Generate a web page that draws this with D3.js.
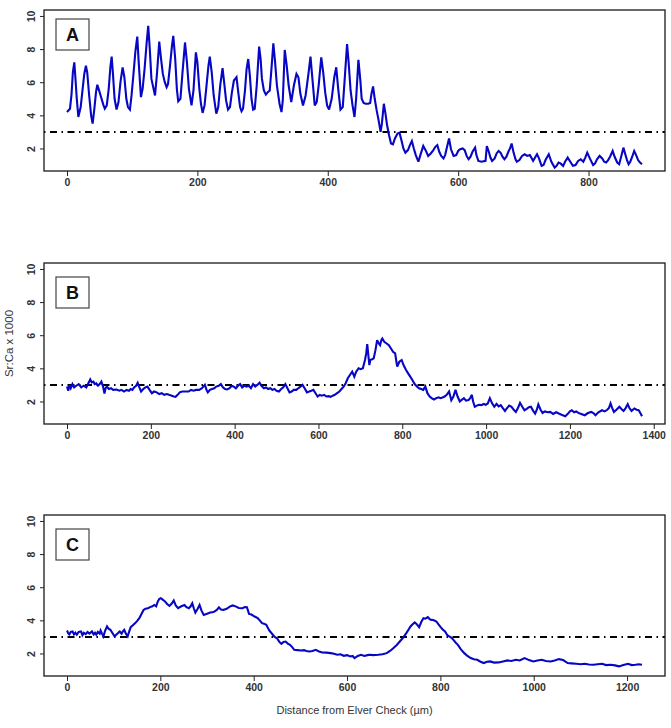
<!DOCTYPE html>
<html><head><meta charset="utf-8">
<script src="https://cdn.jsdelivr.net/npm/d3@7/dist/d3.min.js"></script>
<style>body{margin:0;background:#fff}svg{display:block}</style>
</head><body><svg id="chart" width="671" height="728"></svg>
<script>
// ---------- DATA ----------
const panelLabels = ["A", "B", "C"];
const threshold = 3;
const yTicks = [2, 4, 6, 8, 10];
const yLimits = [1, 10];
const xTicksA = [0, 200, 400, 600, 800];
const xTicksB = [0, 200, 400, 600, 800, 1000, 1200, 1400];
const xTicksC = [0, 200, 400, 600, 800, 1000, 1200];
const xAxisTitle = "Distance from Elver Check (\u00b5m)";
const yAxisTitle = "Sr:Ca x 1000";

const aDist = [0,4.6,7,9,11.2,13,15,17.4,21,24,26.5,29,31,34,37,39.3,42,44.5,46.5,50,53,56,58,61,64,66.5,68.5,70.5,73,76,79,82,85.3,88,91,93.5,96.5,99,102,105,107.8,110,113.4,116,119,122,124.6,127,129.5,135,138,141.5,144,147,150,152.8,155,158,161,163,166,168.5,170.6,174,177,181,184,187,191,194,197.7,200,203,205.5,208,211,214,217,219,222,225,229,232,235,238.6,241,244,247,250,253,256,258,260,263,265.5,267.7,270,273,275.5,278,280.5,283,285.5,288,291,294.7,297,299,302,305,308,311,314,316.5,319,322,326,329,331,334,337,340,344,348,352,355,358,362,366,370,373.5,376,380,383,386,390,393,396,399,402,406,410,413,416,419.5,423,426,429.6,432,435,438,441,443.5,447,450,452,455,458,462,465,467,469.5,472,475,478,481,483,486,488.5,491,494,497,500,503,507,510,513,516,519,523,526,529,532,535,539,542,546.5,550,554,558,562,565,568,571,574,577.5,580,583,586,589,593,597,600,603,607,610,613,616,619,622,626,628,631,636,642,644,647,649.5,652,656,659,662,665,668,671,674,677,679.5,682,685,688,690,694,698,702,706,710,713,715,718,721,724,728,731,734,739,743,748,751,754,757,761,764,768,772,776,780,784,788,792,795,798,802,807,810,813,817,821,824,827,830,833,837,840,844,847,850,853.5,856,859,861.5,864,867,870,873,876,879,882];
const aSrCa = [4.2,4.4,5.3,6.6,7.2,6.2,5.0,3.9,4.5,5.6,6.5,7.0,6.6,5.2,4.0,3.5,4.4,5.4,5.85,5.4,5.0,4.6,4.4,4.6,5.6,6.9,7.55,6.5,5.0,4.35,4.8,6.0,6.9,6.3,5.0,4.5,4.35,5.2,6.5,7.9,8.75,7.2,5.1,5.6,6.8,8.3,9.4,8.0,6.2,5.2,6.5,8.45,7.5,6.5,6.0,5.7,5.9,7.0,8.2,8.8,7.4,5.6,4.85,5.0,6.5,8.4,7.2,5.6,4.6,5.5,7.8,7.2,5.6,4.7,4.15,4.6,5.8,7.0,7.55,6.6,5.2,4.1,4.5,5.8,6.85,6.0,4.9,4.35,4.5,5.4,6.1,6.2,6.3,5.3,4.5,4.25,4.4,5.5,6.8,7.4,6.4,5.0,4.35,4.4,5.8,8.15,7.4,6.2,5.5,5.25,5.4,5.5,7.0,8.35,7.3,5.8,4.7,4.2,4.9,7.95,7.0,5.8,4.8,5.8,6.5,6.3,5.3,4.6,5.2,6.4,7.55,6.4,4.6,4.8,5.8,7.5,6.6,5.4,4.6,4.35,5.0,6.3,6.9,5.6,4.35,4.5,6.2,8.3,7.2,5.5,4.6,3.9,5.0,7.35,6.1,5.0,4.75,4.7,4.7,4.75,5.3,5.75,5.0,4.3,3.7,3.0,3.5,4.7,4.1,3.4,2.8,2.3,2.25,2.6,2.9,2.95,2.5,2.0,1.75,1.9,2.2,2.45,2.0,1.6,1.2,1.6,2.15,1.9,1.55,1.7,1.9,2.1,2.2,1.8,1.55,1.4,1.6,2.1,2.6,1.95,1.55,1.6,1.85,1.95,2.0,1.9,1.55,1.35,1.5,1.8,2.05,1.6,1.25,1.2,1.25,2.15,1.8,1.45,1.25,1.4,1.7,1.85,1.75,1.5,1.35,1.5,1.8,2.0,2.3,1.75,1.35,1.2,1.3,1.55,1.65,1.55,1.6,1.4,1.25,1.45,1.65,1.4,0.95,1.0,1.3,1.65,1.2,0.85,0.95,1.15,1.1,0.95,1.2,1.45,1.2,0.95,1.0,1.25,1.35,1.2,1.45,1.75,1.4,1.0,1.1,1.35,1.55,1.4,1.2,1.15,1.3,1.5,1.85,1.5,1.15,1.05,1.5,2.05,1.7,1.3,1.05,1.2,1.5,1.85,1.6,1.3,1.15,1.05];

const bDist = [0,3,6,9,13,17,22,28,34,40,46,51,55.5,59,63,66,70,74,78,82,86,89.4,92,95,100,105,110,118,125,130,136,142,148,152,156,160,165,168.6,172,176.8,182,187,192,197,202.5,208,214,220,226,232,238,243.6,250,255,259,264,269,275,282,290,296,302,308,315.6,322,329,333,336,341,346,351.5,356,362,367,372,377,382,388,393,398,403,408,413,418,423,428.6,434,439,444,449,454,459.5,464,469.7,475,480,485,490,495,500,505.7,511,516,521,526,531,536,541,547,552,557,562,567,572.5,578,583,588,593,598,603,608,613.6,619,624,629,634,639,644.5,650,655,660,665,670,675,680.5,685.6,690,695.8,701,706,711,714,716.4,719,721.5,723.6,728,731.8,736,740,744,747,750,752.4,757,762.7,768,773,778,783,786,788,793,798.6,803,809,814,819,824,829.5,835,840,845,850,855,860,865.4,870,875.7,881,887,891,896,901,906,911.7,917,922,927,932,937.4,942,947,952,958,962,966,969,973,978,983,988.8,994,999,1004,1009,1014,1019.6,1025,1030,1035,1040,1045,1050,1055,1060.7,1066,1071,1076,1081,1086,1091.6,1097,1102,1107,1112,1117,1121,1124.6,1130,1134.8,1140,1147,1153,1160,1167,1173.6,1180,1189,1195,1200,1204.6,1210,1215,1220,1227,1235.5,1243,1251,1256,1261,1268,1276.6,1283,1289,1293,1297,1301,1305,1311,1318,1323,1328,1333,1338,1342,1347,1354,1359,1364,1368,1372];
const bSrCa = [2.9,2.65,3.0,2.8,3.05,2.85,2.95,3.05,2.85,2.95,2.85,3.1,3.33,3.15,3.2,3.05,3.1,2.95,3.05,3.2,2.9,2.48,2.8,2.9,2.75,2.8,2.7,2.72,2.65,2.7,2.6,2.7,2.65,2.75,2.7,2.85,2.95,3.13,2.9,2.6,2.75,2.85,2.9,2.7,2.5,2.6,2.55,2.45,2.5,2.4,2.45,2.4,2.35,2.3,2.28,2.4,2.55,2.6,2.6,2.6,2.7,2.65,2.7,2.7,2.8,3.0,2.7,2.55,2.7,2.75,2.8,2.9,2.95,3.05,2.85,2.75,2.73,2.8,2.95,2.9,2.8,2.95,3.05,2.85,2.95,2.9,2.95,2.8,3.05,2.9,3.0,3.13,2.95,2.8,2.85,2.75,2.8,2.7,2.75,2.65,2.6,2.75,2.85,3.05,2.8,2.55,2.6,2.7,2.7,2.8,2.9,3.0,2.8,2.55,2.6,2.65,2.7,2.5,2.3,2.4,2.35,2.4,2.3,2.32,2.28,2.35,2.4,2.5,2.6,2.75,2.9,3.1,3.4,3.6,3.8,3.5,3.8,4.0,3.95,4.0,4.5,4.9,5.47,4.8,4.2,4.5,4.55,4.6,5.1,5.7,5.5,5.4,5.7,5.8,5.6,5.5,5.4,5.2,5.0,4.9,4.4,4.1,4.4,4.5,4.2,3.9,3.7,3.5,3.3,3.05,2.9,2.8,2.75,2.7,2.9,2.5,2.3,2.2,2.12,2.2,2.25,2.2,2.24,2.3,2.4,2.6,2.08,2.3,2.7,2.3,2.0,2.1,2.2,2.05,2.08,2.2,2.4,2.0,1.68,1.75,1.8,1.78,1.85,1.8,1.88,2.2,1.9,1.68,1.85,1.7,1.78,1.6,1.43,1.6,1.75,1.68,1.5,1.37,1.6,1.92,1.7,1.47,1.55,1.65,1.68,1.45,1.27,1.5,1.82,1.5,1.31,1.4,1.35,1.37,1.25,1.35,1.27,1.2,1.11,1.25,1.4,1.47,1.35,1.4,1.31,1.25,1.17,1.3,1.37,1.3,1.17,1.35,1.47,1.4,1.5,1.6,1.88,1.6,1.37,1.5,1.68,1.55,1.43,1.6,1.84,1.6,1.43,1.58,1.5,1.47,1.3,1.11];

const cDist = [0,3,5,8,12,15,18,21,25,30,33,36,40,44,48,53.5,57,60,62.7,66,70,72,75,78,82,85.8,89,93,97,102,106,110,113,117,120,122.7,126,130,133,136.5,141,145.7,150,155,159,164,168,173.4,178,183,187,191,194.6,198,201,205,210,214,219.5,224,228.7,233,238,245,251.8,256,261,265,268.4,272,275,280,284,288,293,300,307,314,321,325.6,330,335,342,348.7,355,362.5,368,376,381,385.5,390,395,399.4,404,408.6,413,417.8,422,427,433,441,445,450,455,459.3,464,468.5,473,477.8,482,487,494,501,508,513,519,526,533,540,547,556,565,572,579,586,593,600,607,612,616,623,630,637,644,648,656,667,676,685,692,699,706,713,720,727,732,736,740,745,750,754.5,759,763.7,768,773,778,782,786,791.4,796,800.6,805,810,815,819,824,828,833,837.5,844,851.3,858,865,872,879,886,893,900,906.7,915,925,934,943.6,952,962,970,980.4,990,999,1008,1017,1026,1036,1045,1054,1063,1072.7,1081,1091,1100,1109.6,1118,1128,1137,1146.5,1155,1165,1174,1183,1192,1202,1210,1218,1225,1232];
const cSrCa = [3.39,3.2,3.15,3.3,3.33,3.15,3.25,3.13,3.3,3.33,3.1,3.25,3.17,3.3,3.2,3.33,3.15,3.25,3.13,3.3,3.2,3.39,3.2,3.03,3.4,3.63,3.5,3.43,3.25,3.03,3.15,3.25,3.33,3.2,3.35,3.43,3.2,3.03,3.3,3.59,3.7,3.83,3.95,4.13,4.35,4.63,4.7,4.73,4.8,4.85,4.93,4.85,5.14,5.3,5.34,5.25,5.14,5.0,4.87,5.0,5.2,4.9,4.73,4.85,4.93,4.8,4.73,4.85,5.03,4.7,4.47,4.7,4.93,4.6,4.33,4.4,4.47,4.5,4.63,4.79,4.65,4.63,4.7,4.83,4.9,4.83,4.75,4.73,4.8,4.79,4.39,4.35,4.27,4.2,4.13,4.0,3.83,3.8,3.73,3.4,3.13,3.0,2.92,2.7,2.58,2.7,2.72,2.6,2.52,2.4,2.22,2.2,2.18,2.2,2.15,2.12,2.15,2.22,2.12,2.06,2.05,2.02,1.98,1.92,1.95,1.86,1.9,1.82,1.85,1.72,1.85,1.92,1.85,1.9,1.92,1.9,1.92,1.95,2.02,2.15,2.32,2.5,2.72,2.95,3.23,3.45,3.63,3.75,3.87,3.75,3.59,3.9,4.13,4.1,4.19,4.05,4.03,4.0,3.93,3.75,3.59,3.45,3.33,3.1,3.03,2.95,2.82,2.65,2.52,2.25,2.02,1.85,1.72,1.65,1.62,1.5,1.42,1.5,1.52,1.45,1.46,1.52,1.58,1.55,1.62,1.58,1.72,1.6,1.52,1.58,1.62,1.55,1.52,1.58,1.66,1.6,1.42,1.4,1.38,1.35,1.38,1.33,1.32,1.35,1.38,1.3,1.32,1.28,1.22,1.3,1.38,1.3,1.32,1.35,1.32];

// ---------- LAYOUT / STYLE ----------
const plotLeft = 44, plotRight = 665, plotH = 161;
const panelTops = [10, 263, 515];
const boxOffsets = [9, 14, 14];
const lineColor = "#0606c4";
const fontFam = "Arial, 'Liberation Sans', Helvetica, sans-serif";

const panels = [
  {dist: aDist, val: aSrCa, ticks: xTicksA},
  {dist: bDist, val: bSrCa, ticks: xTicksB},
  {dist: cDist, val: cSrCa, ticks: xTicksC}
];

const svg = d3.select("#chart");

function padded(lo, hi) { const r = hi - lo; return [lo - 0.04 * r, hi + 0.04 * r]; }

panels.forEach((p, i) => {
  const top = panelTops[i];
  const x = d3.scaleLinear().domain(padded(d3.min(p.dist), d3.max(p.dist))).range([plotLeft, plotRight]);
  const y = d3.scaleLinear().domain(padded(yLimits[0], yLimits[1])).range([top + plotH, top]);
  const g = svg.append("g");

  // threshold line
  g.append("line")
    .attr("x1", plotLeft).attr("x2", plotRight)
    .attr("y1", y(threshold)).attr("y2", y(threshold))
    .attr("stroke", "#000").attr("stroke-width", 2)
    .attr("stroke-dasharray", "1.5,4.5,7,4.5");

  // data line
  const line = d3.line().x((d, k) => x(p.dist[k])).y(d => y(d));
  g.append("path").datum(p.val)
    .attr("d", line).attr("fill", "none")
    .attr("stroke", lineColor).attr("stroke-width", 2.1)
    .attr("stroke-linejoin", "miter").attr("stroke-miterlimit", 3);

  // frame
  g.append("rect").attr("x", plotLeft).attr("y", top)
    .attr("width", plotRight - plotLeft).attr("height", plotH)
    .attr("fill", "none").attr("stroke", "#1a1a1a").attr("stroke-width", 1.3);

  // x axis
  const xa = d3.axisBottom(x).tickValues(p.ticks).tickSize(5).tickPadding(3).tickFormat(d3.format("d"));
  const gx = g.append("g").attr("transform", `translate(0,${top + plotH})`).call(xa);
  gx.select(".domain").remove();
  gx.selectAll("line").attr("stroke", "#222");
  gx.selectAll("text").attr("font-family", fontFam).attr("font-size", 10.5).attr("font-weight", "bold").attr("fill", "#333");

  // y axis
  const ya = d3.axisLeft(y).tickValues(yTicks).tickSize(4).tickFormat(d3.format("d"));
  const gy = g.append("g").attr("transform", `translate(${plotLeft},0)`).call(ya);
  gy.select(".domain").remove();
  gy.selectAll("line").attr("stroke", "#222");
  gy.selectAll("text").remove();
  gy.selectAll(".tick").append("text")
    .attr("transform", "translate(-13,0) rotate(-90)")
    .attr("text-anchor", "middle").attr("dy", "0.35em")
    .attr("font-family", fontFam).attr("font-size", 10.5).attr("font-weight", "bold").attr("fill", "#333")
    .text(d => d);

  // panel label box
  const bx = 56, by = top + boxOffsets[i];
  g.append("rect").attr("x", bx).attr("y", by).attr("width", 33).attr("height", 31)
    .attr("fill", "#fff").attr("stroke", "#444").attr("stroke-width", 1.2);
  g.append("text").attr("x", bx + 16.5).attr("y", by + 22)
    .attr("text-anchor", "middle")
    .attr("font-family", "'Liberation Sans Narrow', 'Arial Narrow', Arial, sans-serif")
    .attr("font-weight", "bold").attr("font-size", 18).attr("fill", "#111")
    .text(panelLabels[i]);
});

// axis titles
svg.append("text").attr("x", (plotLeft + plotRight) / 2).attr("y", 714)
  .attr("text-anchor", "middle").attr("font-family", fontFam).attr("font-size", 11).attr("fill", "#333")
  .text(xAxisTitle);
svg.append("text").attr("transform", `translate(13,${panelTops[1] + plotH / 2}) rotate(-90)`)
  .attr("text-anchor", "middle").attr("font-family", fontFam).attr("font-size", 11.5).attr("fill", "#333")
  .text(yAxisTitle);
</script></body></html>
